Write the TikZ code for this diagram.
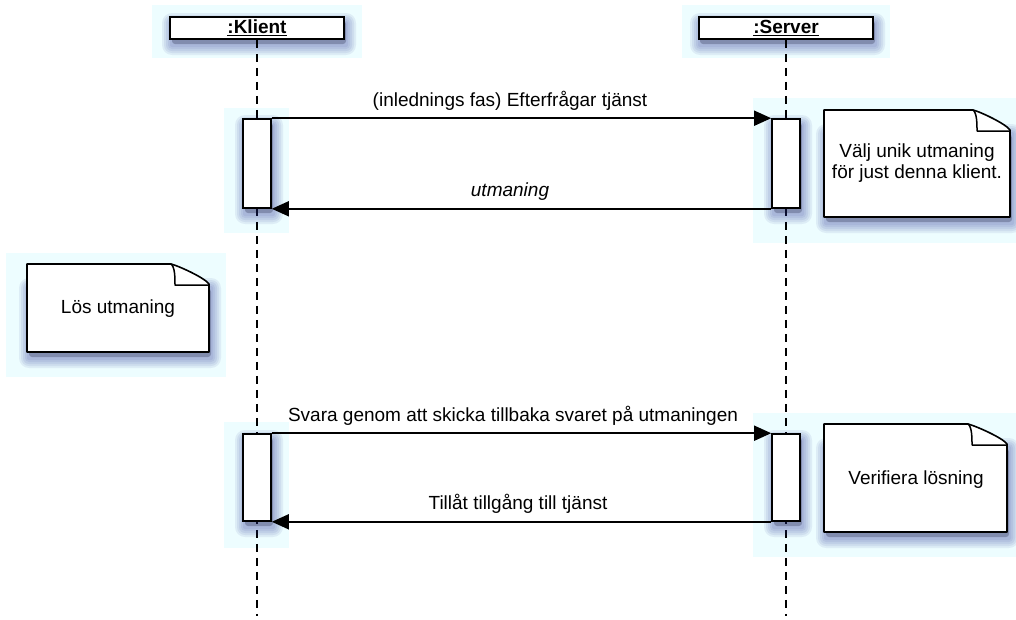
\documentclass[tikz,border=0pt]{standalone}
\usepackage{fontspec}
\setmainfont{Liberation Sans}
\usetikzlibrary{arrows.meta}
\definecolor{bgc}{RGB}{237,253,255}
\definecolor{shc}{RGB}{40,50,150}
\tikzset{
  hdr/.style={draw=black, line width=1.6pt, fill=white, minimum width=174pt, minimum height=22pt, inner sep=0pt, font=\fontsize{19}{21}\selectfont\bfseries},
  act/.style={draw=black, line width=1.6pt, fill=white, minimum width=28pt, inner sep=0pt},
  life/.style={line width=1.5pt, dash pattern=on 8pt off 6pt},
  msg/.style={line width=1.6pt, -{Triangle[length=17pt,width=15pt]}},
  lbl/.style={anchor=base, inner sep=0pt},
  notetxt/.style={align=center, inner sep=0pt},
  notebox/.style={draw=black, fill=white, line width=1.6pt, line join=round},
  bg/.style={fill=bgc, draw=none},
}
\newcommand\mysoftshadow[4]{%
  \foreach \r in {10,8,6,4,2}{%
    \fill[shc, opacity=0.08, rounded corners=\r pt] (#1+2-\r,#2+6-\r) rectangle (#3+2+\r,#4+6+\r);}%
}
\newcommand\myshadow[4]{%
  \mysoftshadow{#1}{#2}{#3}{#4}%
  \fill[black!70!shc, opacity=0.25, rounded corners=3pt] (#1+2,#2+4) rectangle (#3+2,#4+5);
}
\newcommand\mynote[5]{% x1 y1 x2 y2 foldx
  \mysoftshadow{#1}{#2+18}{#3}{#4}
  \fill[black!70!shc, opacity=0.25, rounded corners=3pt] (#1+2,#2+5) -- (#5+2,#2+5) -- (#3+2,#2+25) -- (#3+2,#4+5) -- (#1+2,#4+5) -- cycle;
  \path[notebox] (#1,#2) -- (#5,#2) .. controls (#5+8,#2+2) and (#3-4,#2+14) .. (#3,#2+20) -- (#3,#4) -- (#1,#4) -- cycle;
  \draw[line width=1.5pt, line join=round] (#5,#2) .. controls (#5+4,#2+3) and (#5+4,#2+14) .. (#5+4,#2+21) -- (#3,#2+21);
}
\begin{document}
\begin{tikzpicture}[x=1pt, y=-1pt, font=\fontsize{19}{21}\selectfont]
\useasboundingbox (0,0) rectangle (1016,619);
\fill[white] (0,0) rectangle (1016,619);
% light backgrounds
\fill[bg] (152,5) rectangle (362,58);
\fill[bg] (682,5) rectangle (890,58);
\fill[bg] (224,108) rectangle (289,233);
\fill[bg] (753,98) rectangle (1016,243);
\fill[bg] (6,253) rectangle (226,377);
\fill[bg] (224,422) rectangle (289,548);
\fill[bg] (753,413) rectangle (1016,557);

% headers
\myshadow{170}{17}{344}{39}
\myshadow{698}{17}{873}{39}
\node[hdr] (kh) at (257,28) {\underline{:Klient}};
\node[hdr] (sh) at (786,28) {\underline{:Server}};
\coordinate (kend) at (257,616);
\coordinate (send) at (786,616);
\draw[life] (kh.south) -- (kend);
\draw[life] (sh.south) -- (send);

% activations
\myshadow{243}{119}{271}{208}
\myshadow{772}{119}{800}{208}
\myshadow{243}{434}{271}{521}
\myshadow{772}{434}{800}{521}
\node[act, minimum height=89pt] (ka1) at (257,163.5) {};
\node[act, minimum height=89pt] (sa1) at (786,163.5) {};
\node[act, minimum height=87pt] (ka2) at (257,477.5) {};
\node[act, minimum height=87pt] (sa2) at (786,477.5) {};

% messages
\draw[msg] (ka1.north east) -- (sa1.north west);
\draw[msg] (sa1.south west) -- (ka1.south east);
\draw[msg] (ka2.north east) -- (sa2.north west);
\draw[msg] (sa2.south west) -- (ka2.south east);
\node[lbl] (m1) at (510,106) {(inlednings fas) Efterfrågar tjänst};
\node[lbl] (m2) at (510,196) {\itshape utmaning};
\node[lbl] (m3) at (513,421) {Svara genom att skicka tillbaka svaret på utmaningen};
\node[lbl] (m4) at (518,509) {Tillåt tillgång till tjänst};

% notes
\mynote{824}{110}{1010}{217}{973}
\mynote{27}{264}{209}{352}{171}
\mynote{824}{424}{1007}{532}{968}
\node[notetxt] (n1) at (917,163) {Välj unik utmaning\\för just denna klient.};
\node[notetxt] (n2) at (118,309) {Lös utmaning};
\node[notetxt] (n3) at (916,480) {Verifiera lösning};
\end{tikzpicture}
\end{document}
